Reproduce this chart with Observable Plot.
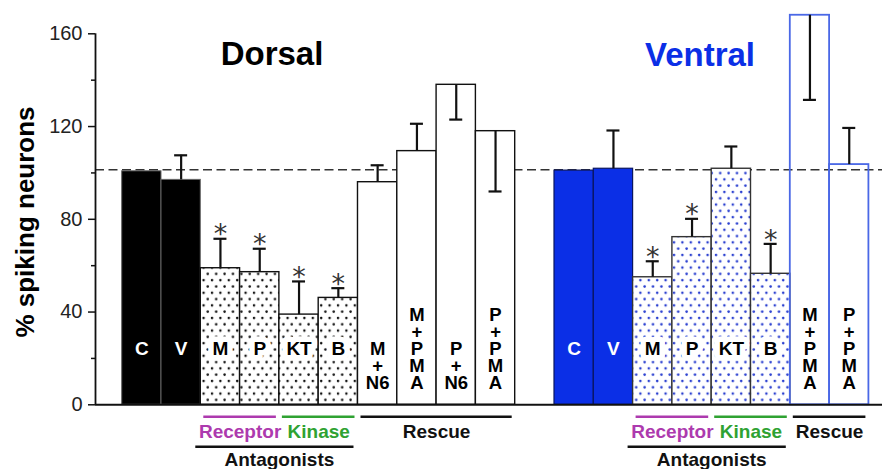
<!DOCTYPE html>
<html><head><meta charset="utf-8">
<script src="https://cdn.jsdelivr.net/npm/d3@7"></script>
<script src="https://cdn.jsdelivr.net/npm/@observablehq/plot@0.6"></script>
<style>
body{margin:0;background:#fff;}
#wrap{position:relative;width:882px;height:469px;}
</style></head><body><div id="wrap"></div>
<script>
// ---- data ----
const dorsalCategories = ["C","V","M","P","KT","B","M+N6","M+PMA","P+N6","P+PMA"];
const dorsalTickLabels = ["C","V","M","P","KT","B","M\n+\nN6","M\n+\nP\nM\nA","P\n+\nN6","P\n+\nP\nM\nA"];
const dorsalMean = [100.7, 97, 58.9, 57.2, 38.9, 46.1, 96, 109.4, 138, 118];
const dorsalErrEnd = [null, 107.6, 71.6, 67.3, 53.2, 50.3, 103.3, 121.2, 123, 92];
const dorsalSignificant = [false, false, true, true, true, true, false, false, false, false];
const dorsalStyle = ["solid","solid","dots","dots","dots","dots","open","open","open","open"];

const ventralCategories = ["C","V","M","P","KT","B","M+PMA","P+PMA"];
const ventralTickLabels = ["C","V","M","P","KT","B","M\n+\nP\nM\nA","P\n+\nP\nM\nA"];
const ventralMean = [101, 101.8, 55, 72.3, 101.8, 56.5, 168, 103.6];
const ventralErrEnd = [null, 118.3, 61.9, 80.2, 111.4, 69.4, 131.5, 119.4];
const ventralSignificant = [false, false, true, true, false, true, false, false];
const ventralStyle = ["solid","solid","dots","dots","dots","dots","open","open"];

const referenceLevel = 101.4;
const yTicks = [0, 40, 80, 120, 160];
const yMinorTicks = [20, 60, 100, 140];

const groupNames = ["Receptor","Kinase","Rescue","Antagonists","Receptor","Kinase","Rescue","Antagonists"];
const groupRegion = ["Dorsal","Dorsal","Dorsal","Dorsal","Ventral","Ventral","Ventral","Ventral"];
const groupFirst = ["M","KT","M+N6","M","M","KT","M+PMA","M"];
const groupLast  = ["P","B","P+PMA","B","P","B","P+PMA","B"];
const groupTier  = [1,1,1,2,1,1,1,2];

// ---- build table ----
const VENTRAL_OFFSET = dorsalCategories.length + 1; // one empty slot between panels
const rows = [
  ...dorsalCategories.map((c, k) => ({region: "Dorsal", cat: c, i: k, value: dorsalMean[k], err: dorsalErrEnd[k], sig: dorsalSignificant[k], style: "D-" + dorsalStyle[k], label: dorsalTickLabels[k]})),
  ...ventralCategories.map((c, k) => ({region: "Ventral", cat: c, i: k + VENTRAL_OFFSET, value: ventralMean[k], err: ventralErrEnd[k], sig: ventralSignificant[k], style: "V-" + ventralStyle[k], label: ventralTickLabels[k]}))
];
const idx = (region, cat) => rows.find(r => r.region === region && r.cat === cat).i;
const groups = groupNames.map((n, k) => ({
  name: n, tier: groupTier[k],
  from: idx(groupRegion[k], groupFirst[k]),
  to: idx(groupRegion[k], groupLast[k])
}));

const BLUE = "#0b2fe6";
const styles = {
  "D-solid": {fill: "#000", stroke: "#666", sw: 1},
  "D-dots": {fill: "url(#dotsBlack)", stroke: "#111", sw: 1.4},
  "D-open": {fill: "#fff", stroke: "#111", sw: 1.4},
  "V-solid": {fill: BLUE, stroke: "#0a1660", sw: 1.2},
  "V-dots": {fill: "url(#dotsBlue)", stroke: "#333", sw: 1.4},
  "V-open": {fill: "none", stroke: "#4a68e6", sw: 1.8}
};
const groupColor = {Receptor: "#ad3aae", Kinase: "#2fa232", Rescue: "#111", Antagonists: "#111"};

const withErr = rows.filter(r => r.err != null);
const singleLabels = rows.filter(r => !r.label.includes("\n"));
const multiLabels = rows.filter(r => r.label.includes("\n"));
const font = "'Liberation Sans', Arial, Helvetica, sans-serif";

const marks = [
  Plot.ruleY([referenceLevel], {stroke: "#333", strokeWidth: 1.6, strokeDasharray: "9,4.5"}),
  ...Object.entries(styles).map(([s, st]) =>
    Plot.rect(rows.filter(r => r.style === s), {
      x1: d => d.i - 0.5, x2: d => d.i + 0.5, y1: () => 0, y2: "value",
      fill: st.fill, stroke: st.stroke, strokeWidth: st.sw
    })),
  Plot.ruleX(withErr, {x: "i", y1: "value", y2: "err", stroke: "#111", strokeWidth: 2.2}),
  Plot.ruleY(withErr, {x1: "i", x2: "i", y: "err", insetLeft: -6.5, insetRight: -6.5, stroke: "#111", strokeWidth: 2.2}),
  Plot.text(rows.filter(r => r.sig), {x: "i", y: "err", text: () => "*", dy: -4, fontSize: 27, fill: "#333", fontFamily: "DejaVu Sans"}),
  Plot.text(singleLabels, {
    x: "i", text: "label", frameAnchor: "bottom", lineAnchor: "bottom", dy: -49.5,
    fill: d => d.style.endsWith("solid") ? "#fff" : "#000",
    stroke: d => d.style.endsWith("dots") ? "#fff" : "none", strokeWidth: 11,
    fontWeight: "bold", fontSize: 19
  }),
  Plot.text(multiLabels, {
    x: "i", text: "label", frameAnchor: "bottom", lineAnchor: "bottom", dy: -15.8,
    lineHeight: 0.92, fill: "#000", fontWeight: "bold", fontSize: 18.5
  }),
  Plot.ruleY([0], {stroke: "#111", strokeWidth: 2}),
  Plot.ruleX([-1.179], {stroke: "#111", strokeWidth: 1.8}),
  Plot.axisY(yTicks, {tickSize: 7, tickPadding: 6, fontSize: 20, label: null, stroke: "#111", strokeWidth: 1.5, fill: "#222"}),
  Plot.axisY(yMinorTicks, {tickSize: 4, tickFormat: () => "", label: null, stroke: "#111", strokeWidth: 1.5})
];

for (const tier of [1, 2]) {
  const g = groups.filter(d => d.tier === tier);
  marks.push(Plot.ruleY(g, {
    x1: d => d.from - 0.5, x2: d => d.to + 0.5, y: () => 0,
    dy: tier === 1 ? 12 : 42,
    insetLeft: tier === 1 ? 3 : -5, insetRight: tier === 1 ? 3 : 4,
    stroke: d => groupColor[d.name], strokeWidth: 2.6
  }));
  marks.push(Plot.text(g, {
    x: d => (d.from + d.to) / 2, text: "name", frameAnchor: "bottom", lineAnchor: "bottom",
    dy: tier === 1 ? 32.7 : 60.7, fill: d => groupColor[d.name],
    fontWeight: "bold", fontSize: 19
  }));
}

const svg = Plot.plot({
  width: 882, height: 469,
  marginLeft: 95, marginRight: 0, marginTop: 33.3, marginBottom: 64.7,
  style: {fontFamily: font, background: "#fff", overflow: "visible"},
  x: {type: "linear", domain: [-1.179, 18.846], axis: null},
  y: {domain: [0, 160], axis: null},
  marks
});

const s = d3.select(svg);
const defs = s.insert("defs", ":first-child");
const p1 = defs.append("pattern").attr("id", "dotsBlack").attr("patternUnits", "userSpaceOnUse")
  .attr("width", 8.4).attr("height", 12.6);
p1.append("rect").attr("width", 8.4).attr("height", 12.6).attr("fill", "#fff");
p1.append("circle").attr("cx", 2).attr("cy", 3).attr("r", 1.25).attr("fill", "#111");
p1.append("circle").attr("cx", 6.2).attr("cy", 9.3).attr("r", 1.25).attr("fill", "#111");
const p2 = defs.append("pattern").attr("id", "dotsBlue").attr("patternUnits", "userSpaceOnUse")
  .attr("width", 8.4).attr("height", 12.6);
p2.append("rect").attr("width", 8.4).attr("height", 12.6).attr("fill", "#fff");
p2.append("circle").attr("cx", 2).attr("cy", 3).attr("r", 1.3).attr("fill", "#2a3fd0");
p2.append("circle").attr("cx", 6.2).attr("cy", 9.3).attr("r", 1.3).attr("fill", "#2a3fd0");

s.append("text").attr("x", 272).attr("y", 65).attr("text-anchor", "middle")
  .attr("font-size", 33).attr("font-weight", "bold").attr("fill", "#000").text("Dorsal");
s.append("text").attr("x", 700).attr("y", 66).attr("text-anchor", "middle")
  .attr("font-size", 33).attr("font-weight", "bold").attr("fill", BLUE).text("Ventral");
s.append("text").attr("transform", "translate(34,222) rotate(-90)").attr("text-anchor", "middle")
  .attr("font-size", 26).attr("font-weight", "bold").attr("fill", "#000").text("% spiking neurons");

document.getElementById("wrap").appendChild(svg);
</script>
</body></html>
